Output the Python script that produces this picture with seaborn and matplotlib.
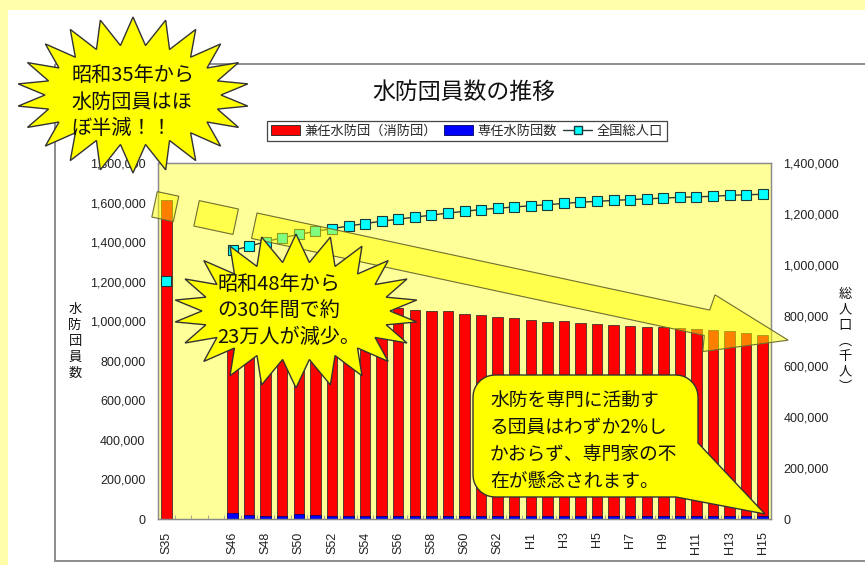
import numpy as np
import pandas as pd
import matplotlib
matplotlib.use("Agg")
import matplotlib.pyplot as plt
import seaborn as sns
from matplotlib.patches import Rectangle, Polygon, Patch
from matplotlib.lines import Line2D
from matplotlib.ticker import FuncFormatter

# ---- data -------------------------------------------------------------
years = ["S35",
         "S46", "S47", "S48", "S49", "S50", "S51", "S52", "S53", "S54", "S55",
         "S56", "S57", "S58", "S59", "S60", "S61", "S62", "S63",
         "H1", "H2", "H3", "H4", "H5", "H6", "H7", "H8", "H9", "H10",
         "H11", "H12", "H13", "H14", "H15"]
gap_slots = [" ", "  ", "   "]          # empty category slots between S35 and S46

# 兼任水防団（消防団）
kennin = [1612000,
          1143000, 1150000, 1143000, 1131000, 1110000, 1102000, 1088000, 1075000,
          1065000, 1058000, 1051000, 1042000, 1037000, 1037000, 1017000, 1012000,
          1007000, 998000, 988000, 979000, 984000, 976000, 971000, 966000,
          959000, 956000, 954000, 952000, 947000, 943000, 935000, 925000, 915000]
# 専任水防団数
sennin = [0,
          32000, 18000, 17000, 17000, 25000, 18000, 17000, 17000, 17000, 17000,
          17000, 17000, 17000, 17000, 17000, 17000, 16000, 16000, 16000, 16000,
          16000, 16000, 16000, 16000, 16000, 16000, 16000, 15000, 15000, 15000,
          15000, 13000, 15000]
# 全国総人口
population = [934000,
              1057000, 1072000, 1091000, 1106000, 1119000, 1131000, 1142000,
              1152000, 1162000, 1171000, 1179000, 1187000, 1195000, 1203000,
              1210000, 1217000, 1222000, 1227000, 1232000, 1236000, 1241000,
              1246000, 1249000, 1253000, 1256000, 1259000, 1262000, 1265000,
              1267000, 1269000, 1273000, 1275000, 1277000]

tick_years = ["S35", "S46", "S48", "S50", "S52", "S54", "S56", "S58", "S60",
              "S62", "H1", "H3", "H5", "H7", "H9", "H11", "H13", "H15"]
left_ticks = [0, 200000, 400000, 600000, 800000, 1000000, 1200000, 1400000,
              1600000, 1800000]
right_ticks = [0, 200000, 400000, 600000, 800000, 1000000, 1200000, 1400000]

title = "水防団員数の推移"
series_names = ["兼任水防団（消防団）", "専任水防団数", "全国総人口"]

# ---- style ------------------------------------------------------------
sns.set_theme(style="white")
plt.rcParams["font.family"] = ["Liberation Sans", "Noto Sans CJK JP", "DejaVu Sans"]
JP = ["Noto Sans CJK JP", "DejaVu Sans"]

order = [years[0]] + gap_slots + years[1:]
df = pd.DataFrame({"year": years, "kennin": kennin, "sennin": sennin,
                   "pop": population})
df["total"] = df["kennin"] + df["sennin"]
df["pos"] = [order.index(y) for y in df["year"]]
df["seg"] = np.where(df["pos"] == 0, 0, 1)

W, H = 865, 565
fig = plt.figure(figsize=(W / 100, H / 100), dpi=100, facecolor="#FFFFAA")


def fx(px):
    return px / W


def fy(py):
    return 1 - py / H


# page background and chart frame
bg = fig.add_axes([0, 0, 1, 1], zorder=-10)
bg.set_xlim(0, W)
bg.set_ylim(H, 0)
bg.axis("off")
bg.add_patch(Rectangle((8, 10), W, H, facecolor="white", edgecolor="none"))
bg.add_patch(Rectangle((55, 64), W, 497, facecolor="none",
                       edgecolor="#8c8c8c", lw=1.4))

# ---- main plot --------------------------------------------------------
ax = fig.add_axes([fx(158), fy(519), (771 - 158) / W, (519 - 163) / H])
ax.set_facecolor("#FFFF99")
sns.barplot(data=df, x="year", y="total", order=order, color="#FF0000",
            saturation=1, width=0.63, edgecolor="#202020", linewidth=0.5,
            errorbar=None, ax=ax)
sns.barplot(data=df, x="year", y="sennin", order=order, color="#0000FF",
            saturation=1, width=0.63, edgecolor="#000060", linewidth=0.5,
            errorbar=None, ax=ax)
ax.set_xlim(-0.5, len(order) - 0.5)
ax.set_ylim(0, 1800000)
ax.set_xlabel("")
ax.set_ylabel("")
ax.set_xticks([order.index(t) for t in tick_years])
ax.set_xticklabels(tick_years, rotation=90)
ax.set_xticks(np.arange(0.5, len(order) - 1, 1.0), minor=True)
ax.set_yticks(left_ticks)
fmt = FuncFormatter(lambda v, _: f"{int(v):,}")
ax.yaxis.set_major_formatter(fmt)
ax.tick_params(axis="x", which="major", length=0, pad=9, labelsize=9,
               labelcolor="#222222")
ax.tick_params(axis="x", which="minor", direction="in", length=3,
               color="#9a9a9a", width=0.6, bottom=True)
ax.tick_params(axis="y", length=0, pad=9, labelsize=9, labelcolor="#222222")
for s in ax.spines.values():
    s.set_color("#8a8a8a")
    s.set_linewidth(0.9)

ax2 = ax.twinx()
sns.lineplot(data=df, x="pos", y="pop", units="seg", estimator=None,
             color="#2b3b3b", lw=1.0, marker="s", markersize=6.5,
             markerfacecolor="#00FFFF", markeredgecolor="#1a3a3a",
             markeredgewidth=0.8, legend=False, ax=ax2)
ax2.set_xlim(-0.5, len(order) - 0.5)
ax2.set_ylim(0, 1400000)
ax2.set_yticks(right_ticks)
ax2.yaxis.set_major_formatter(fmt)
ax2.set_ylabel("")
ax2.set_xlabel("")
ax2.tick_params(axis="y", length=0, pad=9, labelsize=9, labelcolor="#222222")
for s in ax2.spines.values():
    s.set_color("#8a8a8a")
    s.set_linewidth(0.9)

# ---- titles, axis captions, legend -------------------------------------
fig.text(fx(464), fy(92), title, ha="center", va="center", fontsize=16.5,
         family=JP, color="#111111")
fig.text(fx(75), fy(341), "\n".join("水防団員数"), ha="center", va="center",
         fontsize=9.5, family=JP, linespacing=1.3, color="#111111")
fig.text(fx(845), fy(341), "\n".join("総人口︵千人︶"), ha="center",
         va="center", fontsize=9.5, family=JP, linespacing=1.25,
         color="#111111")

handles = [Patch(facecolor="#FF0000", edgecolor="#202020", lw=0.6),
           Patch(facecolor="#0000FF", edgecolor="#000060", lw=0.6),
           Line2D([], [], color="#2b3b3b", lw=1, marker="s", markersize=6,
                  markerfacecolor="#00FFFF", markeredgecolor="#1a3a3a")]
leg = fig.legend(handles, series_names, loc="center",
                 bbox_to_anchor=(fx(467), fy(131)), ncol=3, frameon=True,
                 fancybox=False, edgecolor="#444444", framealpha=1,
                 prop={"family": JP, "size": 9.5}, handlelength=2.2,
                 handleheight=0.75, columnspacing=0.5, handletextpad=0.35,
                 borderpad=0.3, borderaxespad=0)
leg.get_frame().set_linewidth(0.9)

# ---- overlay callouts ---------------------------------------------------
ov = fig.add_axes([0, 0, 1, 1], zorder=10)
ov.set_xlim(0, W)
ov.set_ylim(H, 0)
ov.axis("off")
ov.patch.set_alpha(0)

# translucent downward arrow (three pieces along one direction)
theta = np.deg2rad(12.1)
u = np.array([np.cos(theta), np.sin(theta)])
v = np.array([-np.sin(theta), np.cos(theta)])
origin = np.array([257.0, 213.0])


def pt(a, b):
    return origin + a * u + b * v


arrow_pieces = [
    [pt(-102, 0), pt(-80, 0), pt(-80, 26), pt(-102, 26)],
    [pt(-59, 0), pt(-19, 0), pt(-19, 26), pt(-59, 26)],
    [pt(0, 0), pt(463, 0), pt(465, -16), pt(546, 13), pt(465, 42),
     pt(463, 26), pt(0, 26)],
]
for piece in arrow_pieces:
    ov.add_patch(Polygon(piece, closed=True, facecolor=(1, 1, 0, 0.5),
                         edgecolor="#6f6f30", lw=0.8))


def starburst(cx, cy, rx, ry, spike, n):
    ang = np.linspace(0, 2 * np.pi, 2 * n, endpoint=False) - np.pi / 2
    pts = []
    for i, a in enumerate(ang):
        if i % 2 == 0:
            sx, sy = rx, ry
        else:
            sx, sy = rx - spike, ry - spike
        pts.append((cx + sx * np.cos(a), cy + sy * np.sin(a)))
    return pts


ov.add_patch(Polygon(starburst(133, 95, 116, 78, 28, 22), closed=True,
                     facecolor="#FFFF00", edgecolor="#333333", lw=1.0))
ov.text(133, 102, "昭和35年から\n水防団員はほ\nぼ半減！！", ha="center",
        va="center", multialignment="left", fontsize=14.5, family=JP,
        linespacing=1.35, color="#111111")

ov.add_patch(Polygon(starburst(296, 311, 122, 77, 28, 22), closed=True,
                     facecolor="#FFFF00", edgecolor="#333333", lw=1.0))
ov.text(289, 311, "昭和48年から\nの30年間で約\n23万人が減少。", ha="center",
        va="center", multialignment="left", fontsize=14.5, family=JP,
        linespacing=1.35, color="#111111")


def arc(cx, cy, r, a0, a1, n=10):
    a = np.linspace(np.deg2rad(a0), np.deg2rad(a1), n)
    return [(cx + r * np.cos(t), cy + r * np.sin(t)) for t in a]


# rounded speech bubble with a tail to the H15 bar
x0, x1, y0, y1, r = 473, 698, 375, 497, 22
bubble = []
bubble += arc(x0 + r, y0 + r, r, 180, 270)
bubble += arc(x1 - r, y0 + r, r, 270, 360)
bubble += [(x1, 443), (765, 514), (676, y1)]
bubble += arc(x0 + r, y1 - r, r, 90, 180)
ov.add_patch(Polygon(bubble, closed=True, facecolor="#FFFF00",
                     edgecolor="#333333", lw=1.0))
ov.text(490, 441, "水防を専門に活動す\nる団員はわずか2%し\nかおらず、専門家の不\n在が懸念されます。",
        ha="left", va="center", fontsize=13.5, family=JP, linespacing=1.37,
        color="#111111")

fig.savefig("out.png", dpi=100, facecolor=fig.get_facecolor())
